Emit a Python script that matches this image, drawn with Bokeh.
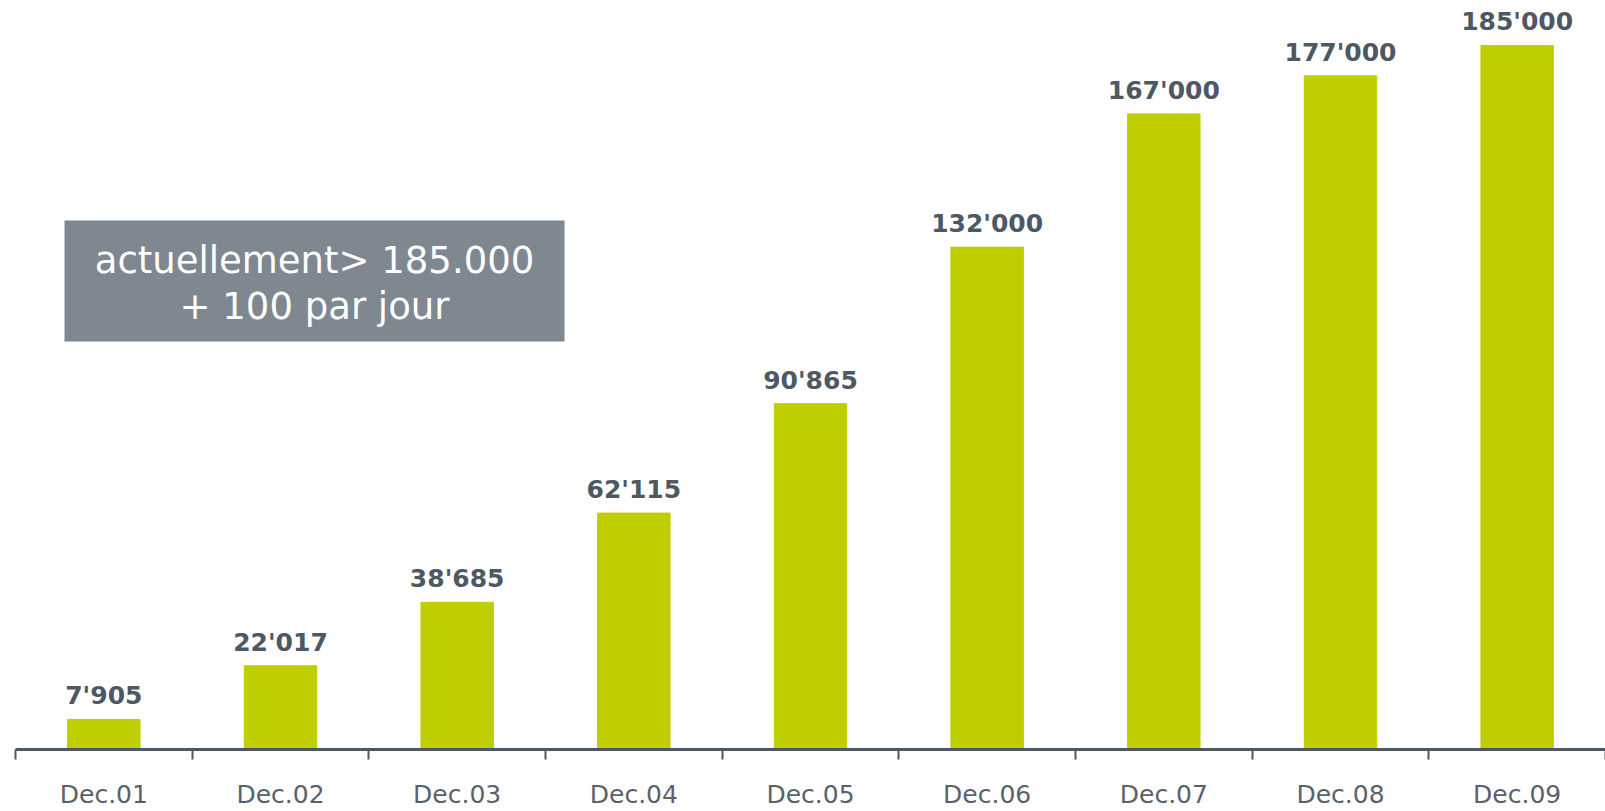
from bokeh.plotting import figure
from bokeh.models import ColumnDataSource, LabelSet, Label, BoxAnnotation, FixedTicker, Range1d
from bokeh.core.properties import value
from bokeh.embed import file_html
from bokeh.resources import INLINE

# ---- data ----
categories = ["Dec.01", "Dec.02", "Dec.03", "Dec.04", "Dec.05",
              "Dec.06", "Dec.07", "Dec.08", "Dec.09"]
values = [7905, 22017, 38685, 62115, 90865, 132000, 167000, 177000, 185000]
value_labels = ["7'905", "22'017", "38'685", "62'115", "90'865",
                "132'000", "167'000", "177'000", "185'000"]
note_lines = ["actuellement> 185.000", "+ 100 par jour"]

# ---- layout ----
W, H = 1605, 811
LEFT, BOTTOM = 15, 62
FRAME_W, FRAME_H = W - LEFT, H - BOTTOM
Y_MAX = 196800
N = len(categories)

BAR = "#BFCE00"
DARK = "#4e5863"
TICKLBL = "#59626c"
BOX = "#7f8790"

def px_x(px):
    return (px - LEFT) * N / FRAME_W

def px_y(py):
    return (FRAME_H - py) * Y_MAX / FRAME_H

centers = [i + 0.5 for i in range(N)]
src = ColumnDataSource(dict(x=centers, top=values, lbl=value_labels, cat=categories))

p = figure(width=W, height=H, x_range=Range1d(0, N), y_range=Range1d(0, Y_MAX),
           output_backend="svg", toolbar_location=None, y_axis_location=None,
           min_border_left=LEFT, min_border_right=0, min_border_top=0,
           min_border_bottom=BOTTOM)
p.outline_line_color = None
p.xgrid.visible = False
p.ygrid.visible = False
p.background_fill_color = "white"
p.border_fill_color = "white"

p.vbar(x="x", top="top", width=0.41, color=BAR, source=src)

ax = p.xaxis[0]
ax.ticker = FixedTicker(ticks=centers, minor_ticks=list(range(N + 1)))
ax.major_label_overrides = {c: cat for c, cat in zip(centers, categories)}
ax.axis_line_color = DARK
ax.axis_line_width = 3
ax.major_tick_out = 0
ax.major_tick_in = 0
ax.minor_tick_out = 10
ax.minor_tick_in = 0
ax.minor_tick_line_color = DARK
ax.minor_tick_line_width = 2
ax.major_label_text_font = "DejaVu Sans"
ax.major_label_text_font_size = "25px"
ax.major_label_text_color = TICKLBL
ax.major_label_standoff = 20

labels = LabelSet(x="x", y="top", text="lbl", source=src, y_offset=15,
                  text_align="center", text_baseline="alphabetic",
                  text_font=value("DejaVu Sans"), text_font_style="bold",
                  text_font_size="25px", text_color=DARK)
p.add_layout(labels)

box = BoxAnnotation(left=px_x(64), right=px_x(564), top=px_y(220), bottom=px_y(341),
                    fill_color=BOX, fill_alpha=1.0, line_color=None)
p.add_layout(box)

cx = (px_x(64) + px_x(564)) / 2
for line, base in zip(note_lines, [260, 306]):
    p.add_layout(Label(x=cx, y=px_y(base), text=line, text_align="center",
                       text_baseline="alphabetic", text_font="DejaVu Sans",
                       text_font_size="37px", text_color="white"))

open("out.html", "w").write(file_html(p, INLINE))
